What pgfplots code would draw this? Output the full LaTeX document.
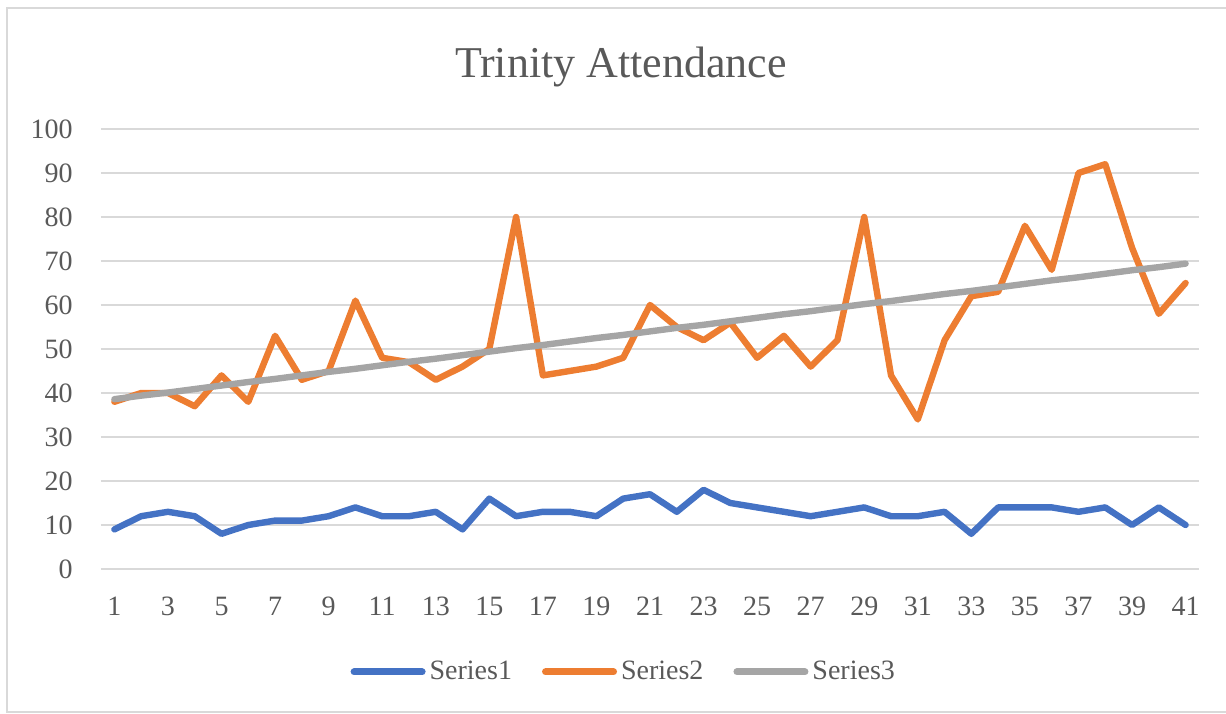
\documentclass[border=0pt]{standalone}
\usepackage{pgfplots}
\pgfplotsset{compat=1.18}
\usepackage{fontspec}
\setmainfont{Liberation Serif}
\definecolor{s1}{HTML}{4472C4}
\definecolor{s2}{HTML}{ED7D31}
\definecolor{s3}{HTML}{A5A5A5}
\definecolor{gridgray}{HTML}{D9D9D9}
\definecolor{txt}{HTML}{595959}

% one reference pixel = 0.5pt, origin at the axis' lower left corner
\pgfplotstableread{
x s1 s2 s3
1 9 38 38.6
2 12 40 39.4
3 13 40 40.1
4 12 37 40.9
5 8 44 41.7
6 10 38 42.5
7 11 53 43.2
8 11 43 44.0
9 12 45 44.8
10 14 61 45.5
11 12 48 46.3
12 12 47 47.1
13 13 43 47.8
14 9 46 48.6
15 16 50 49.4
16 12 80 50.2
17 13 44 50.9
18 13 45 51.7
19 12 46 52.5
20 16 48 53.2
21 17 60 54.0
22 13 55 54.8
23 18 52 55.5
24 15 56 56.3
25 14 48 57.1
26 13 53 57.9
27 12 46 58.6
28 13 52 59.4
29 14 80 60.2
30 12 44 60.9
31 12 34 61.7
32 13 52 62.5
33 8 62 63.2
34 14 63 64.0
35 14 78 64.8
36 14 68 65.6
37 13 90 66.3
38 14 92 67.1
39 10 73 67.9
40 14 58 68.6
41 10 65 69.4
}\attendance

\begin{document}
\begin{tikzpicture}
\draw[gridgray, line width=0.8pt] (575pt,-71.5pt) -- (-47pt,-71.5pt) -- (-47pt,280.5pt) -- (575pt,280.5pt);
\begin{axis}[
    at={(0,0)}, anchor=south west,
    scale only axis,
    width=549pt, height=220pt,
    xmin=0.5, xmax=41.5,
    ymin=0, ymax=100,
    xtick={1,3,...,41},
    ytick={0,10,...,100},
    axis line style={draw=none},
    tick style={draw=none},
    ymajorgrids,
    major grid style={gridgray, line width=1pt},
    every tick label/.append style={font=\fontsize{14}{16}\selectfont, text=txt},
    /pgf/number format/assume math mode=true,
    yticklabel style={anchor=east, inner sep=0pt, xshift=-14pt},
    xticklabel style={anchor=north, inner sep=0pt, yshift=-14pt},
    legend style={at={(0.477,-0.234)}, anchor=center, draw=none, fill=none,
        legend columns=3, font=\fontsize{14}{16}\selectfont, text=txt,
        /tikz/every even column/.append style={column sep=13pt}},
    legend image code/.code={\draw[#1, line width=3.5pt, line cap=round] (0pt,0pt) -- (34pt,0pt);},
    clip=false,
]
\addplot[s1, line width=3.2pt, line join=round, line cap=round] table[x=x, y=s1] {\attendance};
\addlegendentry{Series1}
\addplot[s2, line width=3.2pt, line join=round, line cap=round] table[x=x, y=s2] {\attendance};
\addlegendentry{Series2}
\addplot[s3, line width=3.2pt, line join=round, line cap=round] table[x=x, y=s3] {\attendance};
\addlegendentry{Series3}
\end{axis}
\node[anchor=base, text=txt, font=\fontsize{22}{26}\selectfont, inner sep=0pt] at (260pt,245.5pt) {Trinity Attendance};
\pgfresetboundingbox
\path[use as bounding box] (-50.5pt,-72pt) rectangle (562.5pt,284.5pt);
\end{tikzpicture}
\end{document}
